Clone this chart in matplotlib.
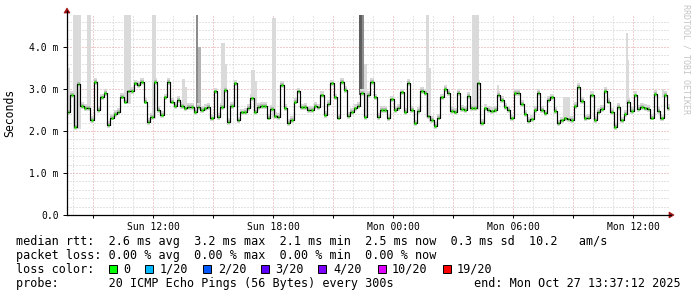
import numpy as np
import matplotlib
matplotlib.use("Agg")
import matplotlib.pyplot as plt
from matplotlib.patches import Rectangle, Polygon
from matplotlib.lines import Line2D

W, H, DPI = 697, 297, 100

# ---------------- data ----------------
start_hour = 7.7          # hours since Sun 00:00 (Sun 07:42)
step_minutes = 10

median_ms = [
    # Sun 07:42 .. ~12:42
    2.46, 2.86, 2.10, 3.12, 2.60, 2.55, 2.55, 2.26, 3.17, 2.50, 2.80, 2.90, 2.15, 2.32, 2.40, 2.46,
    2.82, 2.70, 2.94, 2.95, 3.13, 3.10, 3.17, 2.70, 2.22, 2.34, 3.17, 2.50, 2.38, 2.80, 3.17,
    # .. ~17:30
    2.70, 2.60, 2.74, 2.60, 2.54, 2.58, 2.58, 2.45, 2.58, 2.50, 2.54, 2.58, 2.30, 2.94, 2.34,
    2.58, 2.98, 2.22, 2.60, 3.13, 2.25, 2.44, 2.46, 2.55, 2.78, 2.45, 2.58, 2.60, 2.60,
    # .. ~22:30
    2.32, 2.52, 2.35, 2.34, 3.10, 2.55, 2.20, 2.27, 2.70, 2.94, 2.56, 2.57, 2.50, 2.50, 2.60,
    2.56, 2.85, 2.38, 2.64, 3.13, 2.80, 2.32, 3.17, 2.98, 2.36, 2.46, 2.54, 2.60, 2.90, 2.34,
    # .. Mon ~03:30
    2.86, 3.17, 2.80, 2.34, 2.50, 2.50, 2.30, 2.75, 2.50, 2.55, 2.92, 2.45, 3.15, 2.50, 2.18,
    2.48, 2.95, 2.90, 2.35, 2.27, 2.12, 2.32, 2.80, 3.00, 2.90, 2.48, 2.46, 2.90, 2.52, 2.50,
    # .. Mon ~08:30
    2.84, 2.55, 2.55, 3.13, 2.20, 2.54, 2.50, 2.47, 2.50, 2.86, 2.74, 2.58, 2.50, 2.30, 2.90,
    2.90, 2.64, 2.40, 2.24, 2.28, 2.50, 2.90, 2.50, 2.42, 2.74, 2.80, 2.48, 2.18, 2.25, 2.30,
    # .. Mon 13:42
    2.28, 2.27, 2.60, 3.05, 2.72, 2.30, 2.32, 2.85, 2.27, 2.46, 2.52, 2.95, 2.70, 2.45, 2.10,
    2.58, 2.25, 2.40, 2.70, 2.48, 2.85, 2.52, 2.58, 2.54, 2.52, 2.32, 2.88, 2.48, 2.30, 2.86, 2.54,
]

# high ping "smoke" spikes (hours since Sun 00:00, top in ms)
spike_start = [7.70, 7.75, 8.00, 8.70, 10.55, 11.95, 13.45, 13.60, 14.15, 14.25, 15.40, 15.60,
               16.90, 17.10, 17.95, 22.30, 22.45, 22.55, 25.65, 25.80, 27.95, 29.20, 32.50,
               35.65, 35.75, 37.45]
spike_end = [7.75, 7.85, 8.40, 8.90, 10.90, 12.15, 13.60, 13.70, 14.25, 14.40, 15.60, 15.70,
             17.10, 17.20, 18.15, 22.45, 22.55, 22.70, 25.80, 25.90, 28.30, 29.30, 32.85,
             35.75, 35.80, 37.55]
spike_top = [4.05, 3.50, 5.00, 5.00, 5.00, 5.00, 3.24, 3.05, 5.00, 4.00, 4.10, 3.60,
             3.45, 3.20, 4.70, 5.00, 5.00, 3.60, 5.00, 3.50, 5.00, 3.10, 2.80,
             4.33, 3.70, 3.00]
spike_level = ["l", "l", "l", "l", "l", "l", "l", "l", "d", "m", "l", "l",
               "l", "l", "l", "k", "d", "l", "l", "l", "l", "l", "l",
               "l", "l", "l"]

xtick_hours = [12, 18, 24, 30, 36]
xtick_labels = ["Sun 12:00", "Sun 18:00", "Mon 00:00", "Mon 06:00", "Mon 12:00"]
ytick_values = [0, 1, 2, 3, 4]
ytick_labels = ["0.0", "1.0 m", "2.0 m", "3.0 m", "4.0 m"]

loss_labels = ["0", "1/20", "2/20", "3/20", "4/20", "10/20", "19/20"]
loss_colors = ["#00ff00", "#00b8ff", "#0059ff", "#5e00ff", "#7e00ff", "#dd00ff", "#ff0000"]

line_rtt = "median rtt:  2.6 ms avg  3.2 ms max  2.1 ms min  2.5 ms now  0.3 ms sd  10.2   am/s"
line_loss = "packet loss: 0.00 % avg  0.00 % max  0.00 % min  0.00 % now"
line_probe = "probe:       20 ICMP Echo Pings (56 Bytes) every 300s"
line_end = "end: Mon Oct 27 13:37:12 2025"

# ---------------- drawing ----------------
MONO = "DejaVu Sans Mono"
fig = plt.figure(figsize=(W / DPI, H / DPI), dpi=DPI)
fig.patch.set_facecolor("white")

def fx(px):
    return px / W

def fy(py):
    return 1 - py / H

L, R, T, B = 67, 669, 15, 215
ax = fig.add_axes([fx(L), fy(B), (R - L) / W, (B - T) / H])
ax.set_facecolor("white")
x0, x1 = start_hour, 37.8
ax.set_xlim(x0, x1)
ax.set_ylim(0, 4.76)
for s in ax.spines.values():
    s.set_visible(False)

# grid
dots = dict(lw=0.72, dashes=(1, 2))
for h in range(8, 38):
    if h % 3:
        ax.axvline(h, color="#c8c8c8", zorder=0, **dots)
for v in np.arange(0.2, 4.8, 0.2):
    if abs(v - round(v)) > 1e-6:
        ax.axhline(v, color="#c8c8c8", zorder=0, **dots)
for h in range(9, 38, 3):
    ax.axvline(h, color="#e49a9a", zorder=0.5, **dots)
for v in range(1, 5):
    ax.axhline(v, color="#e49a9a", zorder=0.5, **dots)

med = np.array(median_ms)
n = len(med)
step_h = step_minutes / 60.0
t = start_hour + np.arange(n) * step_h
t_edges = np.append(t, t[-1] + step_h)
med_e = np.append(med, med[-1])

# spikes
shade = {"l": "#dadada", "m": "#b4b4b4", "d": "#8c8c8c", "k": "#5e5e5e"}
for s0, s1, top, lv in zip(spike_start, spike_end, spike_top, spike_level):
    i = int(np.clip(round((s0 - start_hour) / step_h), 0, n - 1))
    base = med[i] - 0.05
    ax.add_patch(Rectangle((s0, base), s1 - s0, top - base, facecolor=shade[lv],
                           edgecolor="none", zorder=1))

# smoke band around median
ax.fill_between(t_edges, med_e - 0.07, med_e + 0.09, step="post", color="#d8d8d8", lw=0, zorder=2)
ax.fill_between(t_edges, med_e - 0.03, med_e + 0.04, step="post", color="#b8b8b8", lw=0, zorder=2.5)

# median line
ax.step(t_edges, med_e, where="post", color="#000000", lw=0.85, zorder=5)
ax.hlines(med, t + step_h * 0.2, t + step_h * 0.7, color="#22ee00", lw=1.8, zorder=6)

# ticks
ax.set_xticks(xtick_hours)
ax.set_xticklabels(xtick_labels, fontfamily=MONO, fontsize=7)
ax.set_xticks(list(range(9, 38, 3)), minor=True)
ax.set_yticks(ytick_values)
ax.set_yticklabels(ytick_labels, fontfamily=MONO, fontsize=7)
ax.tick_params(axis="x", which="both", length=2.2, width=0.7, color="#000000", pad=2.5)
ax.tick_params(axis="y", which="major", length=3, width=0.7, color="#000000", pad=3)
ax.tick_params(axis="y", which="minor", length=0)

# axis lines with arrows
fig.add_artist(Line2D([fx(L), fx(671)], [fy(B), fy(B)], color="black", lw=0.9))
fig.add_artist(Line2D([fx(L), fx(L)], [fy(B), fy(11)], color="black", lw=0.9))
fig.add_artist(Polygon([[fx(669), fy(212)], [fx(674), fy(215)], [fx(669), fy(218)]],
                       closed=True, facecolor="#a01010", edgecolor="#a01010", lw=0.5))
fig.add_artist(Polygon([[fx(64), fy(13)], [fx(67), fy(8)], [fx(70), fy(13)]],
                       closed=True, facecolor="#a01010", edgecolor="#a01010", lw=0.5))

# y label
fig.text(fx(10), fy(113), "Seconds", rotation=90, ha="center", va="center",
         fontfamily=MONO, fontsize=8.3, color="black")

# watermark
fig.text(fx(686), fy(4), "RRDTOOL / TOBI OETIKER", rotation=270, ha="center", va="top",
         fontfamily=MONO, fontsize=6, color="#c4c4c4")

# legend
LFS = 8.5
fig.text(fx(16), fy(245), line_rtt, ha="left", va="baseline", fontfamily=MONO, fontsize=LFS)
fig.text(fx(16), fy(259), line_loss, ha="left", va="baseline", fontfamily=MONO, fontsize=LFS)
fig.text(fx(16), fy(273), "loss color:", ha="left", va="baseline", fontfamily=MONO, fontsize=LFS)
sq_x = [109, 145, 203, 261, 318, 378, 443]
lab_x = [123, 160, 218, 275, 333, 392, 457]
for sx, lx, lab, col in zip(sq_x, lab_x, loss_labels, loss_colors):
    fig.add_artist(Rectangle((fx(sx), fy(273)), 8 / W, 8 / H, facecolor=col,
                             edgecolor="black", lw=0.7))
    fig.text(fx(lx), fy(273), lab, ha="left", va="baseline", fontfamily=MONO, fontsize=LFS)
fig.text(fx(16), fy(287), line_probe, ha="left", va="baseline", fontfamily=MONO, fontsize=LFS)
fig.text(fx(681), fy(287), line_end, ha="right", va="baseline", fontfamily=MONO, fontsize=LFS)

fig.savefig("out.png", dpi=DPI, facecolor="white")
